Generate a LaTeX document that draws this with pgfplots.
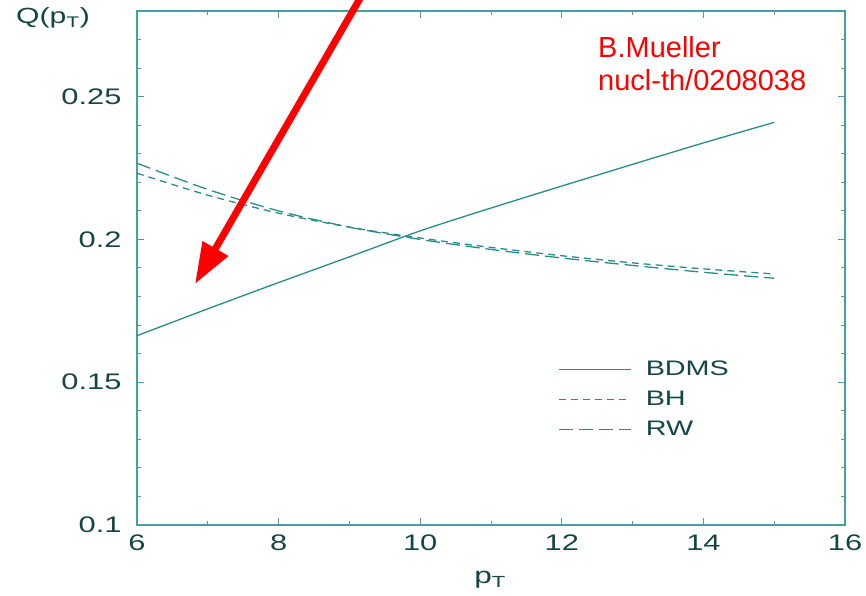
\documentclass[border=0pt]{standalone}
\usepackage{fontspec}
\setmainfont{Liberation Sans}
\newfontfamily\wide[FakeStretch=1.37]{Liberation Sans}
\usepackage{pgfplots}
\pgfplotsset{compat=1.18}
\usetikzlibrary{arrows.meta}
\definecolor{axc}{RGB}{70,160,160}
\definecolor{txc}{RGB}{20,70,70}
\definecolor{lnc}{RGB}{40,140,140}
\begin{document}
\begin{tikzpicture}
\begin{axis}[
  at={(0,0)}, anchor=south west,
  scale only axis, width=708pt, height=514pt,
  xmin=6, xmax=16, ymin=0.1, ymax=0.28,
  xtick={6,8,10,12,14,16}, xticklabels={6,8,10,12,14,16},
  ytick={0.1,0.15,0.2,0.25}, yticklabels={0.1,0.15,0.2,0.25},
  minor xtick={7,9,11,13,15},
  minor ytick={0.11,0.12,0.13,0.14,0.16,0.17,0.18,0.19,0.21,0.22,0.23,0.24,0.26,0.27},
  axis line style={axc, line width=1.5pt},
  every tick/.style={axc, line width=1pt},
  major tick length=7pt, minor tick length=4pt,
  tick label style={font=\wide\fontsize{22.5}{26}\selectfont, text=txc},
  xticklabel style={yshift=-6pt},
  yticklabel style={xshift=-12pt},
  clip=false,
  legend style={at={(rel axis cs:0.595,0.323)}, anchor=north west, draw=none, fill=none,
    inner sep=0pt, font=\wide\fontsize{21}{24}\selectfont, text=txc, row sep=10pt,
    cells={anchor=west}},
  legend image code/.code={\draw[#1] (0pt,0pt) -- (72pt,0pt); \path (84pt,0pt);},
]
\addplot[lnc, line width=1.3pt, smooth] coordinates {
 (6,0.1663) (7,0.1757) (8,0.1849) (9,0.1939) (10,0.2030) (11,0.2110)
 (12,0.2187) (13,0.2263) (14,0.2338) (15,0.2410)};
\addlegendentry{BDMS}
\addplot[lnc, line width=1.3pt, smooth, dash pattern=on 7pt off 5pt] coordinates {
 (6,0.2232) (7,0.2155) (8,0.2092) (9,0.2043) (10,0.2005) (11,0.1972)
 (12,0.1943) (13,0.1918) (14,0.1897) (15,0.1879)};
\addlegendentry{BH}
\addplot[lnc, line width=1.3pt, smooth, dash pattern=on 14pt off 6pt] coordinates {
 (6,0.2267) (7,0.2175) (8,0.2100) (9,0.2043) (10,0.2000) (11,0.1965)
 (12,0.1935) (13,0.1909) (14,0.1885) (15,0.1864)};
\addlegendentry{RW}
\end{axis}
\draw[red, line width=7pt, -{Triangle[length=41pt,width=28pt]}] (225pt,530pt) -- (58pt,241pt);
\node[anchor=north west, red, align=left, font=\fontsize{29}{33}\selectfont, inner sep=0pt] at (461pt,489pt) {B.Mueller\\nucl-th/0208038};
\node[anchor=west, text=txc, font=\wide\fontsize{22}{25}\selectfont, inner sep=0pt] at (-121pt,507pt) {Q(p\textsubscript{T})};
\node[text=txc, font=\wide\fontsize{23}{26}\selectfont, inner sep=0pt] at (353pt,-55pt) {p\textsubscript{T}};
\pgfresetboundingbox
\path[use as bounding box] (-137pt,-71pt) rectangle (729pt,525pt);
\end{tikzpicture}
\end{document}
